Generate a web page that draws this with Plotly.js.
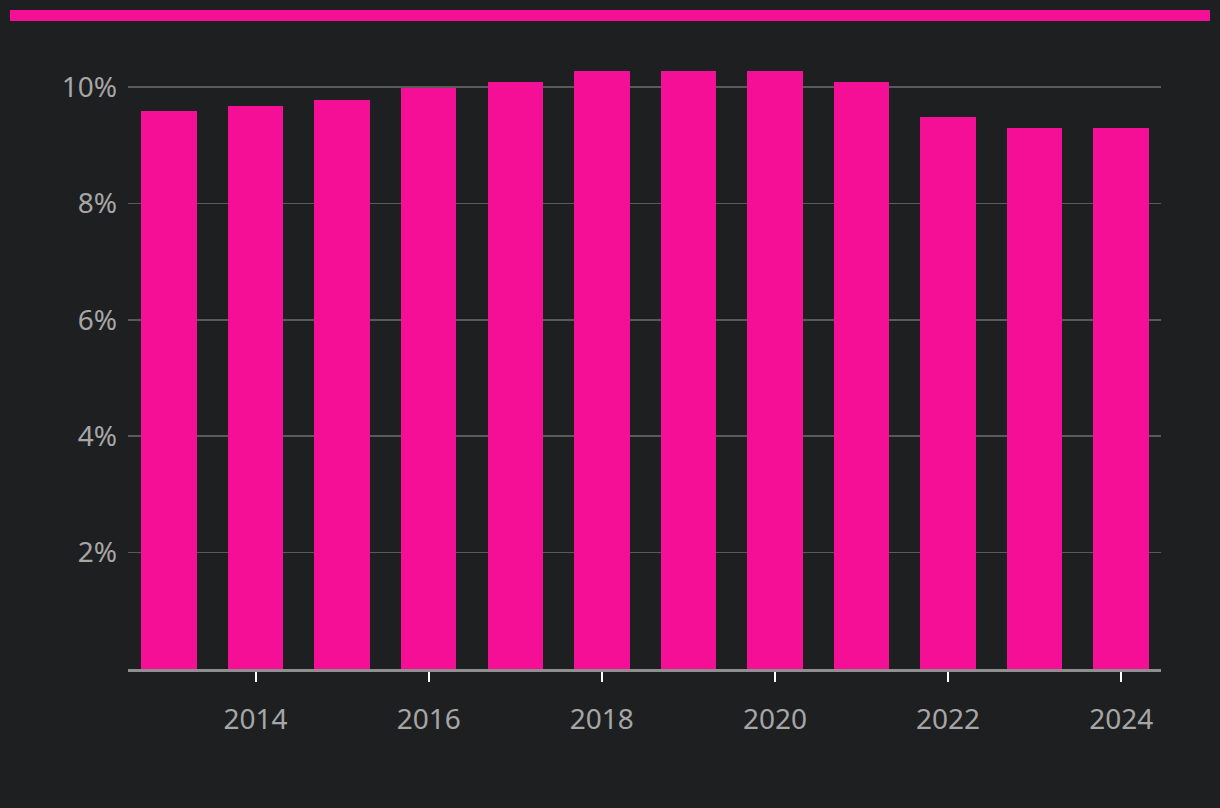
<!DOCTYPE html>
<html>
<head>
<meta charset="utf-8">
<script src="https://cdn.plot.ly/plotly-3.0.1.min.js"></script>
<style>
html,body{margin:0;padding:0;background:#1e1f21;}
#chart{width:1220px;height:808px;}
</style>
</head>
<body>
<div id="chart"></div>
<script>
const years = [2013, 2014, 2015, 2016, 2017, 2018, 2019, 2020, 2021, 2022, 2023, 2024];
const values = [9.58, 9.68, 9.78, 9.98, 10.08, 10.28, 10.28, 10.28, 10.08, 9.48, 9.29, 9.29];
const xTicks = [2014, 2016, 2018, 2020, 2022, 2024];
const yTicks = [2, 4, 6, 8, 10];
const yTickLabels = ['2%', '4%', '6%', '8%', '10%'];

const W = 1220, H = 808;
const m = {l: 128, r: 59, t: 52, b: 139};
const pw = W - m.l - m.r, ph = H - m.t - m.b;
const px = v => (v - m.l) / pw;
const py = v => (H - m.b - v) / ph;

const trace = {
  type: 'bar',
  x: years,
  y: values,
  width: 0.64,
  marker: {color: '#f50f97'},
  hoverinfo: 'x+y'
};

const layout = {
  width: W, height: H,
  margin: m,
  paper_bgcolor: '#1e1f21',
  plot_bgcolor: '#1e1f21',
  font: {family: 'Noto Sans, sans-serif', color: '#a6a6a6', size: 28},
  showlegend: false,
  bargap: 0,
  xaxis: {
    range: [2012.526, 2024.46],
    tickvals: xTicks,
    ticktext: xTicks.map(String),
    ticks: 'outside',
    ticklen: 10,
    tickwidth: 2,
    tickcolor: '#ffffff',
    ticklabelstandoff: 13,
    showgrid: false,
    zeroline: false,
    showline: true,
    linecolor: '#8f8f8f',
    linewidth: 3,
    tickfont: {size: 28, color: '#a6a6a6'}
  },
  yaxis: {
    range: [0, 10.6],
    tickvals: yTicks,
    ticktext: yTickLabels,
    ticks: '',
    ticklabelstandoff: 10,
    showgrid: true,
    gridcolor: '#5a5a5a',
    gridwidth: 1.5,
    zeroline: false,
    showline: false,
    tickfont: {size: 28, color: '#a6a6a6'}
  },
  shapes: [{
    type: 'rect', xref: 'paper', yref: 'paper',
    x0: px(10), x1: px(1210), y0: py(21), y1: py(10),
    fillcolor: '#f50f97', line: {width: 0}, layer: 'above'
  }]
};

Plotly.newPlot('chart', [trace], layout, {displayModeBar: false, staticPlot: true});
</script>
</body>
</html>
